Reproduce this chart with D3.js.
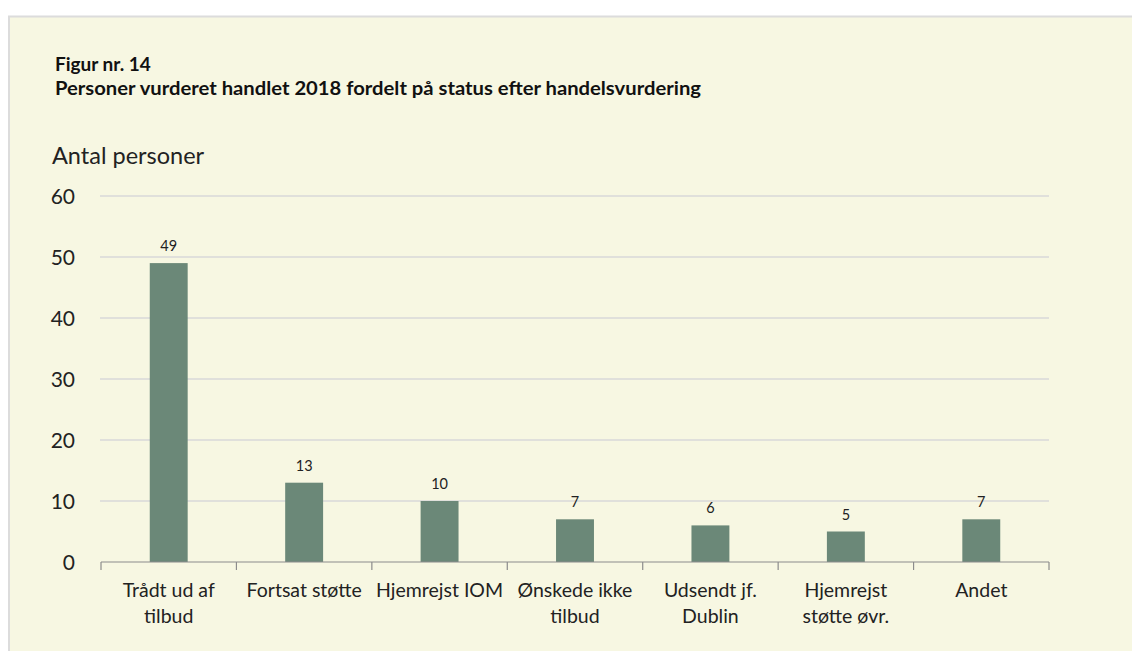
<!DOCTYPE html>
<html>
<head>
<meta charset="utf-8">
<script src="https://cdn.jsdelivr.net/npm/d3@7"></script>
<style>
  body { margin: 0; background: #fff; }
  svg { display: block; font-family: Lato, "Open Sans", sans-serif; }
</style>
</head>
<body>
<svg id="chart" width="1132" height="651"></svg>
<script>
const categories = [
  ["Trådt ud af", "tilbud"],
  ["Fortsat støtte"],
  ["Hjemrejst IOM"],
  ["Ønskede ikke", "tilbud"],
  ["Udsendt jf.", "Dublin"],
  ["Hjemrejst", "støtte øvr."],
  ["Andet"]
];
const values = [49, 13, 10, 7, 6, 5, 7];
const yTicks = [0, 10, 20, 30, 40, 50, 60];

const svg = d3.select("#chart");

// panel background
svg.append("rect")
  .attr("x", 9).attr("y", 16.5)
  .attr("width", 1132).attr("height", 651)
  .attr("fill", "#f7f7e2")
  .attr("stroke", "#dcdcdc")
  .attr("stroke-width", 2);

// titles
svg.append("text").attr("x", 55).attr("y", 71)
  .attr("font-size", 19).attr("font-weight", 700).attr("fill", "#111")
  .text("Figur nr. 14");
svg.append("text").attr("x", 55).attr("y", 95)
  .attr("font-size", 19).attr("font-weight", 700).attr("fill", "#111")
  .attr("textLength", 646).attr("lengthAdjust", "spacingAndGlyphs")
  .text("Personer vurderet handlet 2018 fordelt på status efter handelsvurdering");
svg.append("text").attr("x", 52).attr("y", 164)
  .attr("font-size", 23.5).attr("fill", "#222")
  .text("Antal personer");

const margin = { left: 101, right: 1049, top: 196, bottom: 562 };

const x = d3.scaleBand()
  .domain(d3.range(categories.length))
  .range([margin.left, margin.right])
  .paddingInner(0.72)
  .paddingOuter(0.36);

const y = d3.scaleLinear()
  .domain([0, 60])
  .range([margin.bottom, margin.top]);

// gridlines
svg.append("g")
  .selectAll("line")
  .data(yTicks.filter((d) => d > 0))
  .join("line")
  .attr("x1", margin.left - 1).attr("x2", margin.right)
  .attr("y1", (d) => y(d)).attr("y2", (d) => y(d))
  .attr("stroke", "#d9d9d9")
  .attr("stroke-width", 1.5);

// y axis labels
svg.append("g")
  .attr("transform", `translate(${margin.left - 23},0)`)
  .call(d3.axisLeft(y).tickValues(yTicks).tickSize(0).tickFormat(d3.format("d")))
  .call((g) => g.select(".domain").remove())
  .call((g) => g.selectAll(".tick text")
    .attr("font-family", "Lato, 'Open Sans', sans-serif")
    .attr("font-size", 21).attr("fill", "#222")
    .attr("text-anchor", "end").attr("dy", "0.36em"));

// bars
svg.append("g")
  .selectAll("rect")
  .data(values)
  .join("rect")
  .attr("x", (d, i) => x(i))
  .attr("y", (d) => y(d))
  .attr("width", x.bandwidth())
  .attr("height", (d) => y(0) - y(d))
  .attr("fill", "#6b8878");

// data labels
svg.append("g")
  .selectAll("text")
  .data(values)
  .join("text")
  .attr("x", (d, i) => x(i) + x.bandwidth() / 2)
  .attr("y", (d) => y(d) - 12)
  .attr("text-anchor", "middle")
  .attr("font-size", 14.5).attr("fill", "#222")
  .text((d) => d);

// x axis
const step = x.step();
const xAxis = svg.append("g");
xAxis.append("line")
  .attr("x1", margin.left).attr("x2", margin.right)
  .attr("y1", y(0)).attr("y2", y(0))
  .attr("stroke", "#8c8c8c").attr("stroke-width", 1.2);
xAxis.selectAll("line.tick")
  .data(d3.range(categories.length + 1))
  .join("line")
  .attr("class", "tick")
  .attr("x1", (i) => margin.left + i * step)
  .attr("x2", (i) => margin.left + i * step)
  .attr("y1", y(0)).attr("y2", y(0) + 8)
  .attr("stroke", "#8c8c8c").attr("stroke-width", 1.2);

xAxis.selectAll("text")
  .data(categories)
  .join("text")
  .attr("x", (d, i) => x(i) + x.bandwidth() / 2)
  .attr("y", y(0) + 35)
  .attr("text-anchor", "middle")
  .attr("font-size", 19.5).attr("fill", "#222")
  .each(function (d) {
    d3.select(this).selectAll("tspan")
      .data(d)
      .join("tspan")
      .attr("x", d3.select(this).attr("x"))
      .attr("dy", (t, j) => (j === 0 ? 0 : 26))
      .text((t) => t);
  });
</script>
</body>
</html>
